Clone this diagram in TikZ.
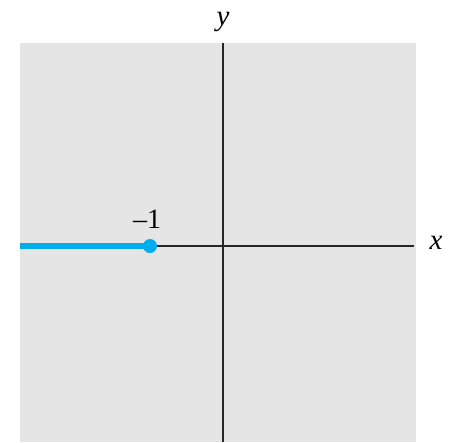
\documentclass[tikz,border=0pt]{standalone}
\usepackage{fontspec}
\setmainfont{Liberation Serif}
\begin{document}
\begin{tikzpicture}[x=1pt,y=-1pt,
  axis/.style={draw=black!85,line width=1.6pt},
  lbl/.style={font=\fontsize{29}{34}\selectfont\itshape,inner sep=0pt},
  numlbl/.style={font=\fontsize{28}{34}\selectfont,inner sep=0pt},
  ray/.style={draw={rgb,255:red,0;green,174;blue,239},line width=6pt},
  dotnode/.style={circle,fill={rgb,255:red,0;green,174;blue,239},minimum size=14pt,inner sep=0pt}]
\useasboundingbox (0,0) rectangle (462,442);
\fill[gray!20] (20,43) rectangle (416,442);
\coordinate (xl) at (20,246);
\coordinate (xr) at (414,246);
\coordinate (yt) at (223,43);
\coordinate (yb) at (223,442);
\draw[axis] (xl) -- (xr);
\draw[axis] (yt) -- (yb);
\node[dotnode] (p) at (150,246) {};
\coordinate (rl) at (20,246);
\draw[ray] (rl) -- (p.center);
\node[lbl] (ylab) at (223,22) {y};
\node[lbl] (xlab) at (436,243) {x};
\node[numlbl] (m1) at (147,219) {\char"2013 1};
\end{tikzpicture}
\end{document}
